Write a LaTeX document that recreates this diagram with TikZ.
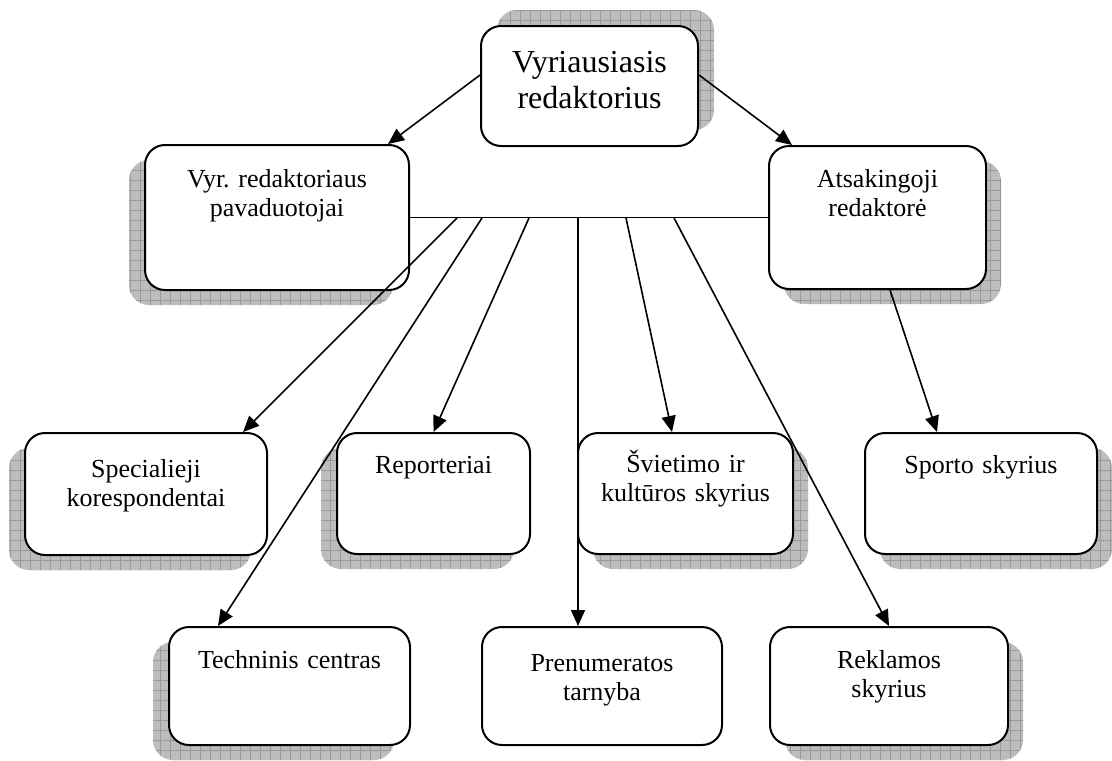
\documentclass[tikz,border=0pt]{standalone}
\usepackage{fontspec}
\setmainfont{Liberation Serif}
\usetikzlibrary{arrows.meta,shadows,patterns.meta}
\frenchspacing

\begin{document}
\begin{tikzpicture}[x=0.5pt,y=-0.5pt,
    box/.style={draw, line width=1pt, rounded corners=10pt, fill=white,
        inner sep=0pt, align=center, font=\fontsize{13}{14.5}\selectfont},
    grid shadow/.style 2 args={
        general shadow={shadow xshift=#1, shadow yshift=#2, fill=gray!52},
        general shadow={shadow xshift=#1, shadow yshift=#2,
            pattern={Hatch[angle=0,distance=5pt,line width=0.35pt]}, pattern color=gray!80}},
    shadowleft/.style={grid shadow={-8pt}{-7.5pt}},
    shadowright/.style={grid shadow={7.5pt}{-7.5pt}},
    shadowup/.style={grid shadow={8pt}{8pt}},
    arr/.style={line width=0.8pt, -{Triangle[length=8pt,width=7pt]}}]

    \useasboundingbox (0,0) rectangle (1112,760);

    % top
    \node[box, shadowup, text width=108.5pt, text height=23pt, text depth=37pt,
        font=\fontsize{16}{18}\selectfont] (vr) at (589.5,86) {Vyriausiasis\\redaktorius};

    % second row
    \node[box, shadowleft, text width=132pt, text height=21pt, text depth=51.5pt]
        (pav) at (277,217.5) {Vyr. redaktoriaus\\pavaduotojai};
    \node[box, shadowright, text width=108.5pt, text height=20.5pt, text depth=51pt]
        (ats) at (877.5,217.5) {Atsakingoji\\redaktorė};

    % third row
    \node[box, shadowleft, text width=121pt, text height=22pt, text depth=39pt]
        (spec) at (146,494) {Specialieji\\korespondentai};
    \node[box, shadowleft, text width=96.5pt, text height=20pt, text depth=40.5pt]
        (rep) at (433.5,493.5) {Reporteriai};
    \node[box, shadowright, text width=107.5pt, text height=19.5pt, text depth=41pt]
        (svi) at (685.5,493.5) {Švietimo ir\\kultūros skyrius};
    \node[box, shadowright, text width=116pt, text height=20pt, text depth=40.5pt]
        (spo) at (981,493.5) {Sporto skyrius};

    % bottom row
    \node[box, shadowleft, text width=120.5pt, text height=20.5pt, text depth=38.5pt]
        (tech) at (289.5,686) {Techninis centras};
    \node[box, text width=120pt, text height=22pt, text depth=37pt]
        (pren) at (602,686) {Prenumeratos\\tarnyba};
    \node[box, shadowright, text width=119pt, text height=20.5pt, text depth=38.5pt]
        (rek) at (889,686) {Reklamos\\skyrius};

    \foreach \n/\x in {b1/457,b2/482,b3/529,b4/578,b5/626,b6/674}
        \coordinate (\n) at (\x,218);

    \draw[line width=0.8pt] (pav.east) -- (ats.west);

    \draw[arr] ([yshift=5.5pt]vr.west) -- ([xshift=55.5pt]pav.north);
    \draw[arr] ([yshift=5.5pt]vr.east) -- ([xshift=-42.75pt]ats.north);
    \draw[arr] (b1) -- ([xshift=48.5pt]spec.north);
    \draw[arr] (b2) -- ([xshift=-35.75pt]tech.north);
    \draw[arr] (b3) -- (rep.north);
    \draw[arr] (b4) -- (b4 |- pren.north);
    \draw[arr] (b5) -- ([xshift=-6.75pt]svi.north);
    \draw[arr] (b6) -- (rek.north);
    \draw[arr] ([xshift=6.25pt]ats.south) -- ([xshift=-22pt]spo.north);
\end{tikzpicture}
\end{document}
